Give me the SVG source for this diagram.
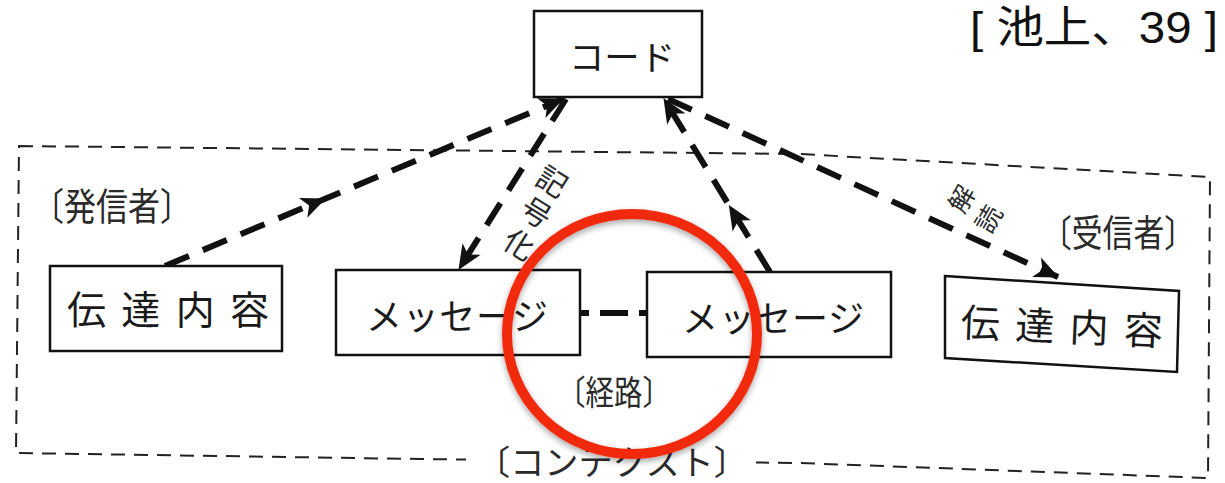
<svg xmlns="http://www.w3.org/2000/svg" width="1225" height="483" viewBox="0 0 1225 483">
  <style>
    .box { fill: #fff; stroke: #111; stroke-width: 2.5; }
    .jp { font-family: "Noto Sans CJK JP", "Noto Sans", sans-serif; fill: #1a1a1a; }
    .lbl { font-family: "Noto Sans CJK JP", "Noto Sans", sans-serif; fill: #2a2a2a; }
    .conn { fill: none; stroke: #111; stroke-width: 6; stroke-dasharray: 26 15; }
    .ctx { fill: none; stroke: #222; stroke-width: 2; stroke-dasharray: 14 9; }
  </style>
  <defs>
    <marker id="ah" markerUnits="userSpaceOnUse" markerWidth="30" markerHeight="30" viewBox="-2 -12 28 24" refX="22" refY="0" orient="auto">
      <path d="M0,-10 L23,0 L0,10 L6,0 Z" fill="#111"/>
    </marker>
    <marker id="am" markerUnits="userSpaceOnUse" markerWidth="30" markerHeight="30" viewBox="-2 -12 28 24" refX="12" refY="0" orient="auto">
      <path d="M0,-10 L23,0 L0,10 L6,0 Z" fill="#111"/>
    </marker>
    <filter id="sh" x="-20%" y="-20%" width="140%" height="140%">
      <feGaussianBlur in="SourceAlpha" stdDeviation="3"/>
      <feOffset dx="0" dy="3"/>
      <feComponentTransfer><feFuncA type="linear" slope="0.35"/></feComponentTransfer>
      <feMerge><feMergeNode/><feMergeNode in="SourceGraphic"/></feMerge>
    </filter>
  </defs>
  <rect width="1225" height="483" fill="#fff"/>

  <!-- context boundary -->
  <g id="context">
    <path class="ctx" d="M19,146 L800,154 L1210,177 L1208,478 L800,463 L420,459 L16,453 Z"/>
    <rect x="466" y="442" width="290" height="38" fill="#fff"/>
    <text class="lbl" x="612" y="460" font-size="34" text-anchor="middle" dominant-baseline="central" textLength="272" lengthAdjust="spacingAndGlyphs">〔コンテクスト〕</text>
  </g>

  <!-- connectors -->
  <g id="connectors">
    <path class="conn" d="M165,266 L315,203 L563,99" marker-mid="url(#am)" marker-end="url(#ah)"/>
    <path class="conn" d="M566,99 L459,269" marker-end="url(#ah)"/>
    <path class="conn" d="M770,272 L735,215 L664,99" marker-mid="url(#am)" marker-end="url(#ah)"/>
    <path class="conn" d="M668,99 L1058,277" marker-end="url(#ah)"/>
    <path d="M580,313 L647,313" fill="none" stroke="#111" stroke-width="6" stroke-dasharray="9 11 28 11 9"/>
  </g>

  <!-- labels on connectors -->
  <g id="encode-label" class="lbl" font-size="30">
    <text x="553" y="180" text-anchor="middle" dominant-baseline="central" transform="rotate(32 553 180)">記</text>
    <text x="537" y="211" text-anchor="middle" dominant-baseline="central" transform="rotate(32 537 211)">号</text>
    <text x="520" y="243" text-anchor="middle" dominant-baseline="central" transform="rotate(32 520 243)">化</text>
  </g>
  <g id="decode-label" class="lbl" font-size="26">
    <text x="960" y="198" text-anchor="middle" dominant-baseline="central" transform="rotate(-60 960 198)">解</text>
    <text x="987" y="218" text-anchor="middle" dominant-baseline="central" transform="rotate(-60 987 218)">読</text>
  </g>

  <!-- nodes -->
  <g id="code">
    <rect class="box" x="534" y="11" width="168" height="86"/>
    <text class="jp" x="622" y="55" font-size="34" text-anchor="middle" dominant-baseline="central" textLength="106" lengthAdjust="spacingAndGlyphs">コード</text>
  </g>
  <g id="sender-content">
    <rect class="box" x="50" y="266" width="232" height="85"/>
    <text class="jp" x="168" y="307" font-size="39" text-anchor="middle" dominant-baseline="central" textLength="202" lengthAdjust="spacing">伝達内容</text>
  </g>
  <g id="sender-message">
    <rect class="box" x="336" y="270" width="244" height="85"/>
    <text class="jp" x="457" y="314" font-size="36" text-anchor="middle" dominant-baseline="central" textLength="182" lengthAdjust="spacing">メッセージ</text>
  </g>
  <g id="receiver-message">
    <rect class="box" x="647" y="272" width="244" height="85"/>
    <text class="jp" x="773" y="316" font-size="36" text-anchor="middle" dominant-baseline="central" textLength="182" lengthAdjust="spacing">メッセージ</text>
  </g>
  <g id="receiver-content">
    <path class="box" d="M945,276 L1179,291 L1177,372 L945,358 Z"/>
    <text class="jp" x="1062" y="324" font-size="39" text-anchor="middle" dominant-baseline="central" textLength="202" lengthAdjust="spacing" transform="rotate(2.5 1062 324)">伝達内容</text>
  </g>

  <!-- group labels -->
  <g id="sender-label">
    <text class="lbl" x="112" y="203" font-size="38" text-anchor="middle" dominant-baseline="central" textLength="160" lengthAdjust="spacingAndGlyphs">〔発信者〕</text>
  </g>
  <g id="receiver-label">
    <text class="lbl" x="1118" y="231" font-size="37" text-anchor="middle" dominant-baseline="central" textLength="154" lengthAdjust="spacingAndGlyphs">〔受信者〕</text>
  </g>
  <g id="channel-label">
    <text class="lbl" x="614" y="390" font-size="34" text-anchor="middle" dominant-baseline="central" textLength="114" lengthAdjust="spacingAndGlyphs">〔経路〕</text>
  </g>

  <!-- citation -->
  <g id="citation">
    <text x="970" y="43" font-family="Liberation Sans, Noto Sans CJK JP, sans-serif" font-size="44" fill="#111" textLength="248" lengthAdjust="spacingAndGlyphs">[ 池上、39 ]</text>
  </g>

  <!-- red highlight circle -->
  <g id="highlight">
    <ellipse cx="632" cy="334" rx="125" ry="120" fill="none" stroke="#f2290f" stroke-width="10" filter="url(#sh)"/>
  </g>
</svg>
